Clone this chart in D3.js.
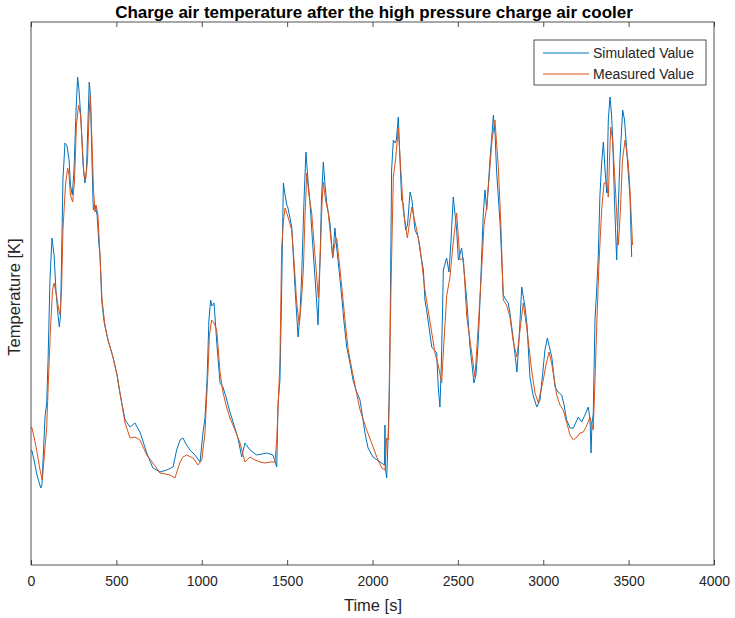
<!DOCTYPE html>
<html>
<head>
<meta charset="utf-8">
<script src="https://cdn.jsdelivr.net/npm/d3@7"></script>
<style>
  body { margin: 0; background: #fff; }
  text { font-family: "Liberation Sans", Arial, sans-serif; fill: #262626; }
</style>
</head>
<body>
<div id="container"></div>
<script>
// simulated charge air temperature (time in s, temperature in K)
let simTime = [4, 18, 35, 57, 64, 76, 82, 92, 100, 111, 123, 135, 146, 158, 166, 173, 180, 187, 199, 211,
  223, 231, 242, 252, 264, 273, 281, 293, 305, 316, 325, 334, 341, 348, 357, 365, 375, 387, 398, 404,
  414, 428, 451, 480, 504, 521, 551, 580, 609, 638, 678, 714, 755, 795, 832, 853, 873, 890, 908, 931,
  960, 990, 1007, 1019, 1031, 1042, 1052, 1060, 1072, 1089, 1107, 1124, 1142, 1165, 1189, 1212, 1234, 1253, 1283, 1322,
  1353, 1380, 1417, 1439, 1447, 1458, 1467, 1478, 1488, 1498, 1505, 1527, 1546, 1564, 1575, 1585, 1599, 1610, 1622, 1634,
  1652, 1673, 1681, 1693, 1701, 1712, 1722, 1732, 1751, 1767, 1780, 1790, 1804, 1820, 1833, 1849, 1868, 1886, 1903, 1927,
  1956, 1974, 2003, 2044, 2070, 2073, 2077, 2083, 2091, 2097, 2103, 2112, 2122, 2132, 2140, 2151, 2161, 2171, 2179, 2194,
  2205, 2220, 2231, 2249, 2268, 2278, 2298, 2307, 2317, 2347, 2376, 2385, 2395, 2404, 2415, 2434, 2448, 2460, 2473, 2493,
  2503, 2522, 2536, 2552, 2571, 2583, 2594, 2606, 2618, 2629, 2649, 2659, 2669, 2688, 2708, 2718, 2727, 2747, 2766, 2782,
  2795, 2805, 2825, 2846, 2858, 2874, 2893, 2905, 2922, 2940, 2962, 2981, 2991, 3010, 3024, 3040, 3050, 3069, 3087, 3108,
  3122, 3137, 3157, 3176, 3192, 3205, 3225, 3244, 3264, 3274, 3280, 3285, 3293, 3303, 3313, 3322, 3332, 3342, 3352, 3362,
  3372, 3381, 3391, 3400, 3407, 3417, 3430, 3441, 3449, 3465, 3476, 3489, 3498, 3508, 3518];
let simTemp = [301.5, 300.5, 299.0, 297.7, 298.0, 302.5, 304.8, 306.2, 310.5, 318.5, 322.7, 321.0, 317.5, 315.0, 313.8, 315.0, 321.5, 328.5, 332.2, 331.9,
  330.5, 328.0, 327.0, 329.5, 335.5, 338.8, 337.5, 334.5, 330.0, 328.2, 329.5, 334.5, 338.3, 337.0, 330.5, 325.5, 326.0, 325.0, 322.0, 321.0,
  316.5, 314.3, 312.5, 310.8, 309.0, 307.2, 304.5, 303.8, 304.2, 303.3, 301.2, 299.7, 299.3, 299.5, 299.8, 301.5, 302.5, 302.7, 302.1, 301.5,
  301.0, 300.3, 303.2, 304.7, 308.5, 314.5, 316.5, 315.9, 316.2, 312.0, 308.2, 307.8, 306.8, 305.3, 304.0, 302.7, 300.8, 302.2, 301.5, 301.0,
  301.1, 301.2, 301.0, 299.8, 306.2, 308.5, 316.5, 328.2, 327.0, 326.0, 325.7, 323.8, 317.8, 312.8, 315.0, 318.8, 326.5, 331.3, 328.5, 326.2,
  321.5, 316.3, 314.0, 320.5, 326.5, 330.3, 328.0, 326.2, 324.2, 320.7, 323.7, 321.8, 319.5, 316.8, 314.3, 311.8, 310.2, 308.5, 307.5, 306.5,
  303.2, 301.7, 300.8, 300.3, 300.0, 304.0, 299.5, 298.7, 302.5, 306.5, 313.5, 329.5, 332.5, 332.2, 332.5, 334.8, 330.5, 326.5, 326.2, 323.5,
  324.0, 327.3, 326.5, 323.5, 322.8, 321.5, 319.5, 316.5, 315.5, 311.8, 311.2, 307.8, 305.8, 310.5, 319.5, 320.7, 319.3, 322.5, 326.8, 323.5,
  320.5, 321.7, 319.5, 316.5, 311.8, 310.0, 308.2, 309.0, 312.0, 316.2, 325.2, 327.5, 325.5, 330.5, 335.0, 333.0, 329.3, 324.2, 317.0, 316.5,
  316.2, 315.2, 312.5, 309.3, 312.5, 317.8, 315.8, 314.0, 308.8, 307.0, 305.8, 306.5, 308.2, 311.5, 312.7, 311.5, 310.8, 307.8, 307.3, 307.0,
  306.0, 304.5, 303.7, 303.7, 304.3, 304.8, 304.3, 305.0, 305.8, 304.5, 301.2, 304.0, 305.2, 314.5, 317.5, 320.8, 327.0, 330.2, 332.3, 329.5,
  327.2, 334.5, 336.8, 335.0, 332.5, 326.5, 320.5, 326.5, 330.5, 335.5, 334.5, 331.5, 329.2, 326.8, 320.8];

// measured charge air temperature
let measTime = [4, 18, 35, 53, 66, 76, 92, 102, 114, 126, 135, 146, 158, 170, 179, 187, 202, 215, 223, 231,
  244, 255, 266, 279, 290, 302, 310, 320, 331, 340, 347, 357, 366, 375, 381, 392, 404, 416, 433, 451,
  480, 504, 521, 551, 580, 609, 638, 678, 714, 755, 785, 814, 843, 873, 890, 912, 949, 978, 1000, 1019,
  1029, 1037, 1045, 1058, 1072, 1088, 1107, 1124, 1142, 1165, 1195, 1224, 1253, 1283, 1312, 1341, 1370, 1400, 1429, 1439,
  1449, 1458, 1468, 1479, 1488, 1505, 1527, 1540, 1556, 1571, 1584, 1595, 1605, 1615, 1628, 1644, 1663, 1683, 1695, 1704,
  1712, 1725, 1741, 1754, 1767, 1778, 1790, 1804, 1820, 1839, 1858, 1880, 1903, 1927, 1966, 1995, 2025, 2054, 2073, 2083,
  2093, 2100, 2108, 2122, 2135, 2151, 2164, 2180, 2204, 2230, 2259, 2278, 2307, 2337, 2366, 2385, 2405, 2419, 2435, 2454,
  2471, 2493, 2512, 2532, 2552, 2571, 2600, 2618, 2640, 2653, 2669, 2682, 2700, 2717, 2737, 2753, 2766, 2785, 2805, 2823,
  2845, 2864, 2883, 2905, 2932, 2952, 2971, 2987, 3000, 3016, 3034, 3051, 3079, 3098, 3117, 3133, 3157, 3176, 3198, 3215,
  3235, 3256, 3274, 3285, 3293, 3303, 3313, 3326, 3342, 3356, 3372, 3381, 3388, 3395, 3406, 3420, 3440, 3452, 3464, 3479,
  3498, 3508, 3523];
let measTemp = [303.8, 302.8, 301.3, 299.5, 298.5, 300.5, 303.8, 308.5, 313.5, 317.5, 318.2, 317.3, 316.0, 315.0, 317.5, 323.5, 328.0, 329.7, 329.0, 327.0,
  326.3, 328.5, 334.0, 336.0, 335.0, 331.5, 329.0, 328.5, 330.5, 335.0, 337.0, 332.5, 327.5, 325.3, 326.0, 325.0, 321.0, 316.5, 314.0, 312.5,
  310.8, 309.0, 307.2, 304.2, 302.7, 302.8, 302.5, 301.0, 300.2, 299.2, 299.1, 299.0, 298.7, 300.3, 300.8, 301.0, 300.7, 300.0, 300.5, 303.2,
  306.8, 309.5, 313.0, 314.5, 314.2, 313.5, 309.3, 307.3, 306.0, 304.7, 303.5, 302.2, 300.3, 300.8, 300.5, 300.3, 300.2, 300.3, 300.3, 302.5,
  306.5, 310.5, 321.7, 324.5, 325.7, 324.8, 323.5, 320.5, 316.3, 314.0, 316.5, 319.5, 325.0, 329.2, 327.0, 325.2, 321.0, 316.7, 321.5, 326.0,
  328.3, 326.5, 325.2, 323.0, 320.8, 322.0, 322.7, 320.5, 317.8, 314.5, 311.5, 309.5, 307.5, 305.5, 303.5, 302.2, 300.8, 299.7, 299.5, 302.7,
  302.5, 308.5, 317.5, 328.8, 330.5, 333.7, 330.0, 325.5, 322.7, 325.8, 323.5, 321.8, 317.5, 314.3, 311.2, 310.0, 308.2, 312.5, 317.0, 318.8,
  322.0, 325.2, 320.5, 320.7, 314.8, 312.5, 308.8, 313.5, 319.8, 324.0, 325.8, 328.5, 332.5, 334.5, 329.8, 323.5, 316.5, 316.0, 314.8, 312.5,
  310.8, 313.5, 316.2, 313.5, 309.5, 307.2, 306.2, 307.5, 308.5, 310.0, 311.3, 310.0, 307.0, 306.0, 305.5, 304.5, 303.0, 302.5, 302.8, 303.2,
  303.3, 304.0, 304.8, 304.0, 303.5, 308.5, 313.8, 320.0, 325.5, 328.2, 328.2, 326.8, 330.5, 333.8, 332.5, 328.5, 322.0, 325.5, 330.5, 332.5,
  330.2, 327.5, 322.0];

let xTicks = [0, 500, 1000, 1500, 2000, 2500, 3000, 3500, 4000];
let seriesNames = ['Simulated Value', 'Measured Value'];
let colors = ['#0072BD', '#D95319'];

const width = 735, height = 618;
const margin = {left: 31, right: 21, top: 22, bottom: 53};
const svg = d3.select('#container').append('svg').attr('width', width).attr('height', height);

const x = d3.scaleLinear().domain([0, 4000]).range([margin.left, width - margin.right]);
const y = d3.scaleLinear().domain([290, 344.3]).range([height - margin.bottom, margin.top]);

// plot lines
const line = d3.line().x(d => x(d[0])).y(d => y(d[1]));
const sim = d3.zip(simTime, simTemp);
const meas = d3.zip(measTime, measTemp);

svg.append('path').datum(sim)
  .attr('d', line).attr('fill', 'none')
  .attr('stroke', colors[0]).attr('stroke-width', 1);
svg.append('path').datum(meas)
  .attr('d', line).attr('fill', 'none')
  .attr('stroke', colors[1]).attr('stroke-width', 1);

// axes box + ticks (matlab style, ticks inside, mirrored on top)
const axisColor = '#262626';
svg.append('g')
  .attr('transform', `translate(0, ${height - margin.bottom})`)
  .call(d3.axisBottom(x).tickValues(xTicks).tickFormat(d3.format('d')).tickSize(-5).tickPadding(11))
  .call(g => g.select('.domain').remove())
  .call(g => g.selectAll('line').attr('stroke', axisColor).attr('stroke-width', 0.8))
  .call(g => g.selectAll('text').style('font-size', '14px').style('fill', axisColor).attr('font-family', null));

svg.append('g')
  .attr('transform', `translate(0, ${margin.top})`)
  .call(d3.axisTop(x).tickValues(xTicks).tickSize(-5).tickFormat(''))
  .call(g => g.select('.domain').remove())
  .call(g => g.selectAll('line').attr('stroke', axisColor).attr('stroke-width', 0.8));

svg.append('rect')
  .attr('x', margin.left).attr('y', margin.top)
  .attr('width', width - margin.left - margin.right)
  .attr('height', height - margin.top - margin.bottom)
  .attr('fill', 'none').attr('stroke', axisColor).attr('stroke-width', 0.8);

// title and labels
svg.append('text')
  .attr('x', 374).attr('y', 18)
  .attr('text-anchor', 'middle')
  .style('font-size', '17px').style('font-weight', 'bold').style('fill', '#000')
  .text('Charge air temperature after the high pressure charge air cooler');

svg.append('text')
  .attr('x', 373).attr('y', 611)
  .attr('text-anchor', 'middle')
  .style('font-size', '16.5px')
  .text('Time [s]');

svg.append('text')
  .attr('transform', 'translate(20, 297) rotate(-90)')
  .attr('text-anchor', 'middle')
  .style('font-size', '16.5px')
  .text('Temperature [K]');

// legend
const legend = svg.append('g').attr('transform', 'translate(534, 40)');
legend.append('rect')
  .attr('width', 172).attr('height', 45)
  .attr('fill', '#fff').attr('stroke', axisColor).attr('stroke-width', 0.8);

let item = legend.selectAll('g.item')
  .data(seriesNames)
  .enter()
  .append('g')
  .attr('class', 'item')
  .attr('transform', (d, i) => `translate(0, ${13 + i * 21})`);

item.append('line')
  .attr('x1', 9).attr('x2', 55)
  .attr('stroke', (d, i) => colors[i]).attr('stroke-width', 1);

item.append('text')
  .attr('x', 59).attr('dy', 5)
  .style('font-size', '14px')
  .text(d => d);
</script>
</body>
</html>
